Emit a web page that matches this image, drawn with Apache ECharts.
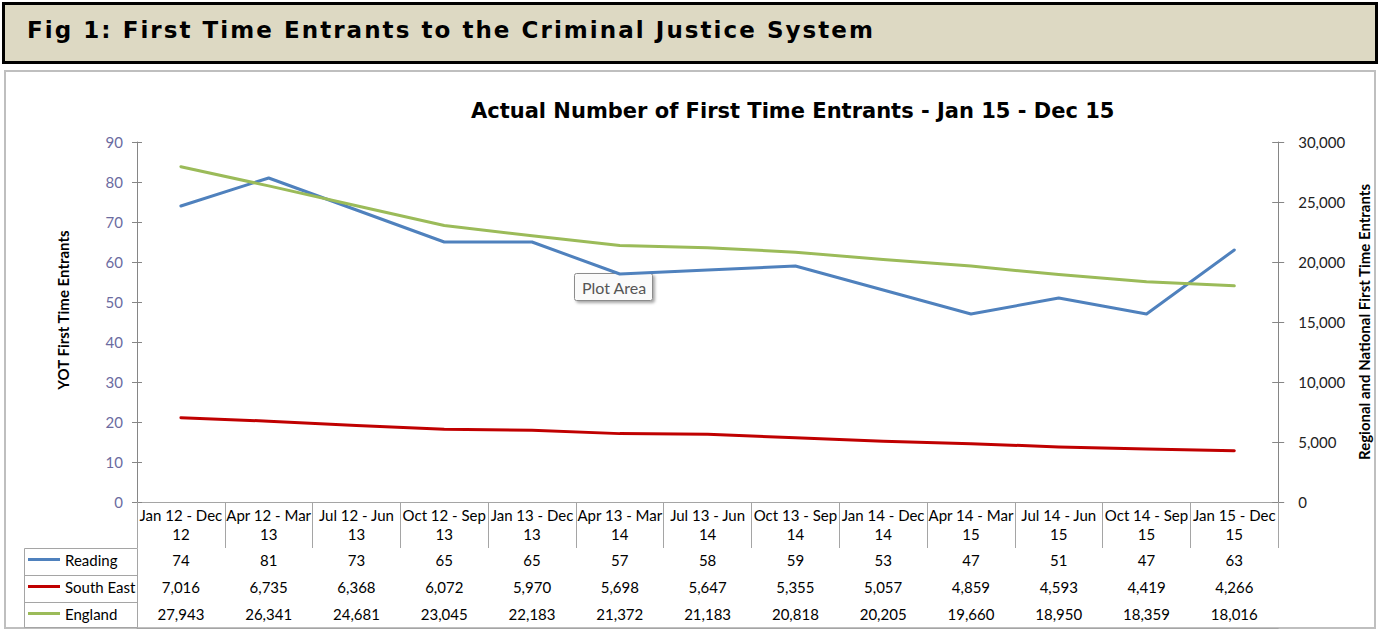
<!DOCTYPE html>
<html>
<head>
<meta charset="utf-8">
<script src="https://cdn.jsdelivr.net/npm/echarts@6/dist/echarts.min.js"></script>
<style>
  html, body { margin: 0; padding: 0; background: #fff; }
  #wrap { position: relative; width: 1379px; height: 629px; overflow: hidden; }
  #chart { position: absolute; left: 0; top: 0; width: 1379px; height: 629px; }
  #banner {
    position: absolute; left: 2px; top: 2px; width: 1376px; height: 62px;
    box-sizing: border-box; border: 3px solid #000; background: #DDD9C3;
    padding-left: 22px; line-height: 51px; white-space: nowrap; z-index: 2;
  }
  #bannerText {
    font-family: "DejaVu Sans", sans-serif; font-weight: bold;
    font-size: 23px; color: #000;
  }
</style>
</head>
<body>
<div id="wrap">
  <div id="chart"></div>
  <div id="banner"><span id="bannerText">Fig 1: First Time Entrants to the Criminal Justice System</span></div>
</div>
<script>
// Rolling 12-month periods
const categories = [
  'Jan 12 - Dec 12', 'Apr 12 - Mar 13', 'Jul 12 - Jun 13', 'Oct 12 - Sep 13',
  'Jan 13 - Dec 13', 'Apr 13 - Mar 14', 'Jul 13 - Jun 14', 'Oct 13 - Sep 14',
  'Jan 14 - Dec 14', 'Apr 14 - Mar 15', 'Jul 14 - Jun 15', 'Oct 14 - Sep 15',
  'Jan 15 - Dec 15'
];
// First time entrants per period
const reading   = [74, 81, 73, 65, 65, 57, 58, 59, 53, 47, 51, 47, 63];
const southEast = [7016, 6735, 6368, 6072, 5970, 5698, 5647, 5355, 5057, 4859, 4593, 4419, 4266];
const england   = [27943, 26341, 24681, 23045, 22183, 21372, 21183, 20818, 20205, 19660, 18950, 18359, 18016];

const seriesNames = ['Reading', 'South East', 'England'];
const seriesColors = ['#4F81BD', '#C00000', '#9BBB59'];

const FONT = 'Lato, "Noto Sans", sans-serif';
const GRID_COLOR = '#A5A5A5';
const AXIS_COLOR = '#868686';

// Spread the banner heading across its set width
(function fitBanner() {
  const span = document.getElementById('bannerText');
  const target = 846;
  const w = span.getBoundingClientRect().width;
  const n = span.textContent.length - 1;
  span.style.letterSpacing = Math.max(0, (target - w) / n).toFixed(3) + 'px';
})();

const withCommas = v => String(v).replace(/\B(?=(\d{3})+(?!\d))/g, ',');
// "Jan 12 - Dec 12" -> "Jan 12 - Dec\n12"
const wrapPeriod = s => { const i = s.lastIndexOf(' '); return s.slice(0, i) + '\n' + s.slice(i + 1); };

// One bottom x axis per data-table row; ticks form the cell borders
function tableAxis(offset, tickLen, formatter, labelMargin, lineHeight) {
  return {
    type: 'category',
    data: categories,
    position: 'bottom',
    offset: offset,
    boundaryGap: true,
    axisLine: { show: true, lineStyle: { color: GRID_COLOR, width: 1 } },
    axisTick: { show: tickLen > 0, interval: 0, alignWithLabel: false, length: tickLen,
                lineStyle: { color: GRID_COLOR, width: 1 } },
    axisLabel: {
      show: !!formatter, interval: 0, margin: labelMargin,
      formatter: formatter || (() => ''),
      color: '#000', fontFamily: FONT, fontSize: 15, lineHeight: lineHeight, align: 'center'
    },
    splitLine: { show: false }
  };
}

const chart = echarts.init(document.getElementById('chart'), null, { renderer: 'svg' });

const option = {
  animation: false,
  backgroundColor: '#fff',
  title: {
    text: 'Actual Number of First Time Entrants - Jan 15 - Dec 15',
    left: 466, top: 95,
    textStyle: { fontFamily: '"DejaVu Sans", sans-serif', fontWeight: 'bold', fontSize: 21, color: '#000' }
  },
  legend: {
    orient: 'vertical',
    left: 28, top: 546,
    padding: 0, itemGap: 0,
    itemWidth: 32, itemHeight: 3,
    icon: 'rect',
    selectedMode: false,
    data: seriesNames,
    textStyle: { fontFamily: FONT, fontSize: 15, color: '#000', lineHeight: 27 }
  },
  grid: { left: 137, right: 97, top: 142, bottom: 127, containLabel: false },
  xAxis: [
    tableAxis(0, 46, (v) => wrapPeriod(v), 3, 19),
    tableAxis(46, 27, (v, i) => String(reading[i]), 2, 19),
    tableAxis(73, 27, (v, i) => withCommas(southEast[i]), 2, 19),
    tableAxis(100, 26, (v, i) => withCommas(england[i]), 2, 19),
    tableAxis(126, 0, null, 0, 0)
  ],
  yAxis: [
    {
      type: 'value', position: 'left', min: 0, max: 90, interval: 10,
      name: 'YOT First Time Entrants', nameLocation: 'middle', nameGap: 67, nameRotate: 90,
      nameTextStyle: { fontFamily: FONT, fontWeight: 'bold', fontSize: 15, color: '#000', padding: [0, 0, 0, 24] },
      axisLine: { show: true, lineStyle: { color: AXIS_COLOR, width: 1 } },
      axisTick: { show: true, length: 5, lineStyle: { color: AXIS_COLOR } },
      axisLabel: { margin: 14, color: '#6B6B9F', fontFamily: FONT, fontSize: 15 },
      splitLine: { show: false }
    },
    {
      type: 'value', position: 'right', min: 0, max: 30000, interval: 5000,
      name: 'Regional and National First Time Entrants', nameLocation: 'middle', nameGap: 77, nameRotate: 90,
      nameTextStyle: { fontFamily: FONT, fontWeight: 'bold', fontSize: 15, color: '#000' },
      axisLine: { show: true, lineStyle: { color: AXIS_COLOR, width: 1 } },
      axisTick: { show: true, length: 6, lineStyle: { color: AXIS_COLOR } },
      axisLabel: { margin: 20, color: '#222', fontFamily: FONT, fontSize: 15, formatter: withCommas },
      splitLine: { show: false }
    },
    // inner halves of the crossing tick marks
    {
      type: 'value', position: 'left', min: 0, max: 90, interval: 10,
      axisLine: { show: false }, axisLabel: { show: false }, splitLine: { show: false },
      axisTick: { show: true, inside: true, length: 5, lineStyle: { color: AXIS_COLOR } }
    },
    {
      type: 'value', position: 'right', min: 0, max: 30000, interval: 5000,
      axisLine: { show: false }, axisLabel: { show: false }, splitLine: { show: false },
      axisTick: { show: true, inside: true, length: 6, lineStyle: { color: AXIS_COLOR } }
    }
  ],
  series: [
    { name: seriesNames[0], type: 'line', xAxisIndex: 0, yAxisIndex: 0, data: reading },
    { name: seriesNames[1], type: 'line', xAxisIndex: 0, yAxisIndex: 1, data: southEast },
    { name: seriesNames[2], type: 'line', xAxisIndex: 0, yAxisIndex: 1, data: england }
  ].map((s, i) => Object.assign(s, {
    symbol: 'none',
    color: seriesColors[i],
    lineStyle: { width: 3, color: seriesColors[i], cap: 'round', join: 'round' }
  })),
  graphic: [
    // chart frame
    {
      type: 'rect', z: 0,
      shape: { x: 5, y: 71, width: 1370, height: 557 },
      style: { fill: 'none', stroke: '#BFBFBF', lineWidth: 2 }
    },
    // legend column borders of the data table
    {
      type: 'group', z: 1,
      children: [
        { type: 'rect', shape: { x: 24.5, y: 548.5, width: 113, height: 79 },
          style: { fill: 'none', stroke: GRID_COLOR, lineWidth: 1 } },
        { type: 'line', shape: { x1: 24.5, y1: 575.5, x2: 137.5, y2: 575.5 },
          style: { stroke: GRID_COLOR, lineWidth: 1 } },
        { type: 'line', shape: { x1: 24.5, y1: 602.5, x2: 137.5, y2: 602.5 },
          style: { stroke: GRID_COLOR, lineWidth: 1 } }
      ]
    },
    // "Plot Area" hover label
    {
      type: 'group', z: 10,
      children: [
        { type: 'rect', shape: { x: 574.5, y: 273.5, width: 78, height: 27, r: 2 },
          style: { fill: '#FAFAFA', stroke: '#8C8C8C', lineWidth: 1,
                   shadowBlur: 3, shadowOffsetX: 2, shadowOffsetY: 2, shadowColor: 'rgba(0,0,0,0.35)' } },
        { type: 'text', x: 582, y: 287,
          style: { text: 'Plot Area', font: '16px ' + FONT, fill: '#555', verticalAlign: 'middle' } }
      ]
    }
  ]
};

chart.setOption(option);
</script>
</body>
</html>
